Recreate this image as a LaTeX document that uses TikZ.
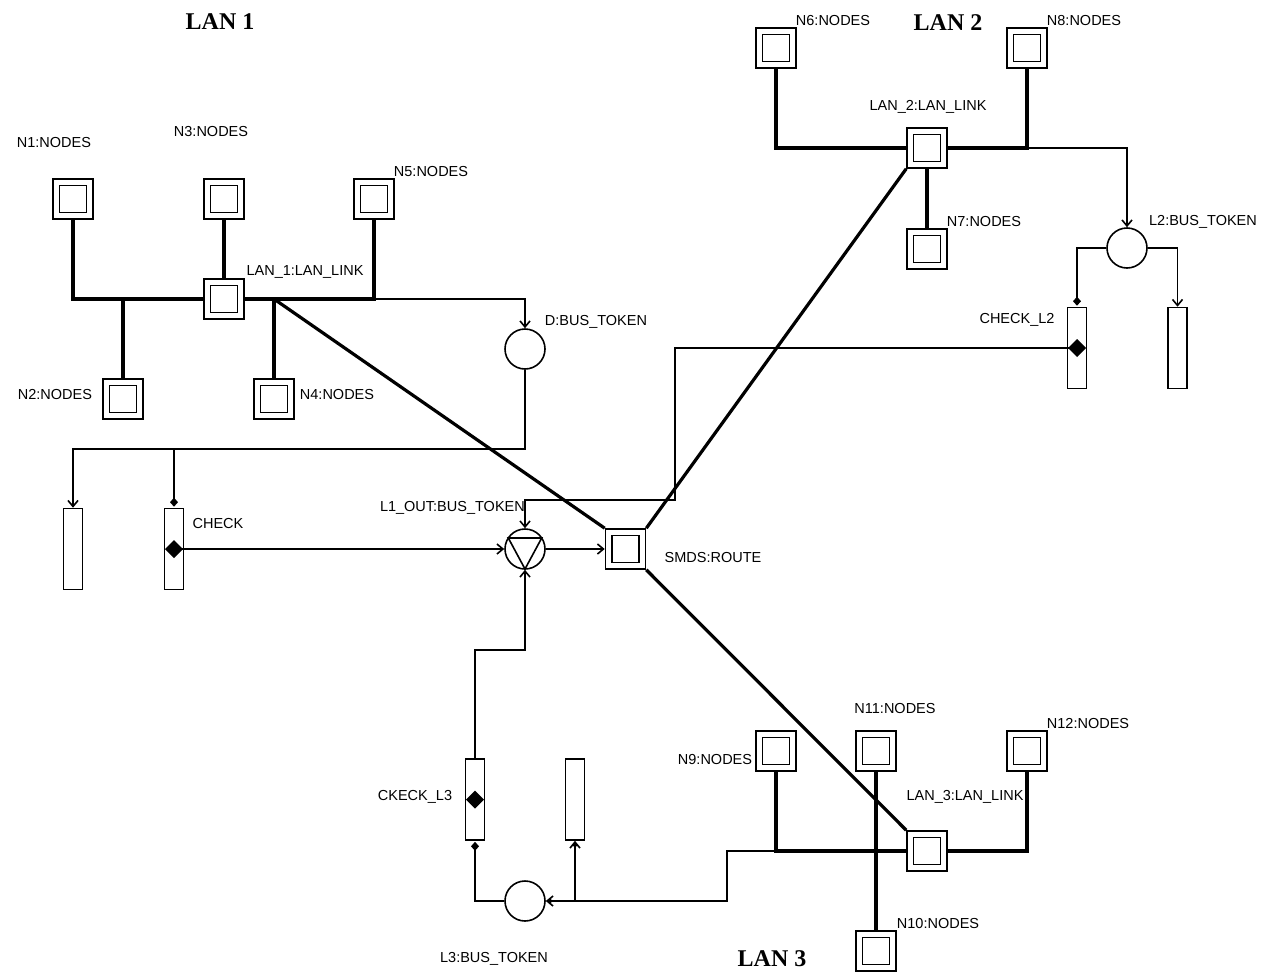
\documentclass[tikz,border=0pt]{standalone}
\usepackage{fontspec}
\setmainfont{Liberation Sans}
\newfontfamily\titlefont{Liberation Serif}
\usetikzlibrary{arrows.meta,calc}
\begin{document}
\begin{tikzpicture}[x=1pt,y=-1pt,
 every node/.style={inner sep=0pt},
 nodebox/.style={draw,line width=1.6pt,rectangle,minimum size=40pt,
   path picture={\draw[line width=1.6pt] ([shift={(-13.5pt,-13.5pt)}]path picture bounding box.center) rectangle ([shift={(13.5pt,13.5pt)}]path picture bounding box.center);}},
 place/.style={draw,circle,line width=1.6pt,minimum size=40pt},
 queue/.style={draw,rectangle,line width=1.6pt,minimum width=19pt,minimum height=81pt},
 lbl/.style={font=\fontsize{14.5}{16}\selectfont},
 ttl/.style={font=\titlefont\bfseries\fontsize{24}{26}\selectfont},
 bus/.style={line width=3.2pt},
 link/.style={line width=1.6pt},
 arr/.style={link,-{Straight Barb[length=6pt,width=10pt]}},
 dia/.style={link,-{Diamond[length=9pt,width=8pt]},shorten >=1pt}
]
\useasboundingbox (0,0) rectangle (1271,972);

% titles
\node[ttl] (t1) at (220,22) {LAN 1};
\node[ttl] (t2) at (948,23) {LAN 2};
\node[ttl] (t3) at (772,959) {LAN 3};

% LAN 1
\node[nodebox] (N1) at (73,199) {};
\node[nodebox] (N3) at (224,199) {};
\node[nodebox] (N5) at (374,199) {};
\node[nodebox] (LAN1) at (224,299) {};
\node[nodebox] (N2) at (123,399) {};
\node[nodebox] (N4) at (274,399) {};
\draw[bus] (N1.south) |- (LAN1.west);
\draw[bus] (N5.south) |- (LAN1.east);
\draw[bus] (N3.south) -- (LAN1.north);
\draw[bus] (N2.north) -- (N2.north |- LAN1.west);
\draw[bus] (N4.north) -- (N4.north |- LAN1.east);

% D bus token and queues
\node[place] (D) at (525,349) {};
\node[queue] (R1) at (73,549) {};
\node[queue] (CHK) at (174,549) {};
\draw[arr] (N5.south |- LAN1.east) -| (D.north);
\coordinate (d1) at (525,449);
\draw[arr] (D.south) -- (d1) -| (R1.north);
\draw[dia] (d1 -| CHK.north) -- (CHK.north);
\fill (CHK.center) +(-9,0) -- +(0,-9) -- +(9,0) -- +(0,9) -- cycle;

% L1_OUT and SMDS
\node[place] (L1OUT) at (525,549) {};
\draw[link] (L1OUT.center) +(-16.7,-11) -- +(16.7,-11) -- +(0,20) -- cycle;
\node[nodebox] (SMDS) at (625.5,549) {};
\draw[arr] (CHK.center) -- (L1OUT.west);
\draw[arr] (L1OUT.east) -- (SMDS.west);

% LAN 2
\node[nodebox] (N6) at (776,48) {};
\node[nodebox] (N8) at (1027,48) {};
\node[nodebox] (LAN2) at (927,148) {};
\node[nodebox] (N7) at (927,249) {};
\draw[bus] (N6.south) |- (LAN2.west);
\draw[bus] (N8.south) |- (LAN2.east);
\draw[bus] (LAN2.south) -- (N7.north);
\node[place] (L2) at (1127,248) {};
\node[queue] (CL2) at (1077,348) {};
\node[queue] (R2) at (1177.5,348) {};
\draw[arr] (N8.south |- LAN2.east) -| (L2.north);
\draw[dia] (L2.west) -| (CL2.north);
\draw[arr] (L2.east) -| (R2.north);
\fill (CL2.center) +(-9,0) -- +(0,-9) -- +(9,0) -- +(0,9) -- cycle;
\coordinate (c2a) at (675,348);
\coordinate (c2b) at (675,500);
\draw[arr] (CL2.center) -- (c2a) -- (c2b) -| (L1OUT.north);

% LAN 3
\node[nodebox] (N9) at (776,751) {};
\node[nodebox] (N11) at (876,751) {};
\node[nodebox] (N12) at (1027,751) {};
\node[nodebox] (LAN3) at (927,851) {};
\node[nodebox] (N10) at (876,951) {};
\draw[bus] (N9.south) |- (LAN3.west);
\draw[bus] (N12.south) |- (LAN3.east);
\draw[bus] (N11.south) -- (N10.north);
\node[place] (L3) at (525,901) {};
\node[queue] (CL3) at (475,799.5) {};
\node[queue] (R3) at (575,799.5) {};
\fill (CL3.center) +(-9,0) -- +(0,-9) -- +(9,0) -- +(0,9) -- cycle;
\coordinate (c3a) at (727,851);
\coordinate (c3b) at (727,901);
\draw[arr] (N9.south |- LAN3.west) -- (c3a) -- (c3b) -- (L3.east);
\fill (L3.east) ++(4,0) circle (2.2);
\draw[arr] (R3.south |- L3.east) -- (R3.south);
\fill (R3.south) ++(0,4) circle (2.2);
\draw[dia] (L3.west) -| (CL3.south);
\coordinate (c3c) at (525,650);
\draw[arr] (CL3.north) |- (c3c) -- (L1OUT.south);

% backbone
\draw[bus] (N4.north |- LAN1.east) -- (SMDS.north west);
\draw[bus] (SMDS.north east) -- (LAN2.south west);
\draw[bus] (SMDS.south east) -- (LAN3.north west);

% labels
\node[lbl] (lN1) at (54,143) {N1:NODES};
\node[lbl] (lN2) at (55,395) {N2:NODES};
\node[lbl] (lN3) at (211,132) {N3:NODES};
\node[lbl] (lN5) at (431,172) {N5:NODES};
\node[lbl] (lN4) at (337,395) {N4:NODES};
\node[lbl] (lL1) at (305,272) {LAN\_1:LAN\_LINK};
\node[lbl] (lD) at (596,322) {D:BUS\_TOKEN};
\node[lbl] (lCHK) at (218,523) {CHECK};
\node[lbl,anchor=east] (lL1O) at (525,508) {L1\_OUT:BUS\_TOKEN};
\node[lbl] (lSMDS) at (713,557) {SMDS:ROUTE};
\node[lbl] (lN6) at (833,21) {N6:NODES};
\node[lbl] (lN8) at (1084,21) {N8:NODES};
\node[lbl] (lL2) at (928,107) {LAN\_2:LAN\_LINK};
\node[lbl] (lN7) at (984,222) {N7:NODES};
\node[lbl] (lL2b) at (1203,222) {L2:BUS\_TOKEN};
\node[lbl] (lCL2) at (1017,320) {CHECK\_L2};
\node[lbl] (lCL3) at (415,797) {CKECK\_L3};
\node[lbl] (lL3b) at (494,959) {L3:BUS\_TOKEN};
\node[lbl] (lN9) at (715,759) {N9:NODES};
\node[lbl] (lN11) at (895,708) {N11:NODES};
\node[lbl] (lN12) at (1088,723) {N12:NODES};
\node[lbl] (lL3) at (965,797) {LAN\_3:LAN\_LINK};
\node[lbl] (lN10) at (938,923) {N10:NODES};
\end{tikzpicture}
\end{document}
